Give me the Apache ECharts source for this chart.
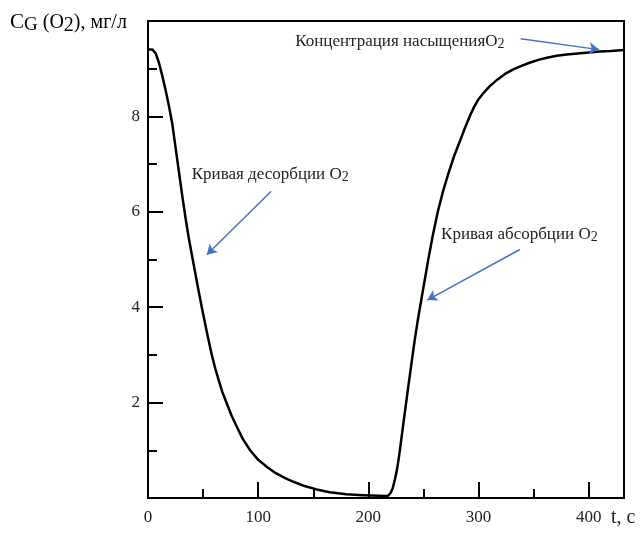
<!DOCTYPE html>
<html>
<head>
<meta charset="utf-8">
<script src="https://cdn.jsdelivr.net/npm/echarts@6/dist/echarts.min.js"></script>
<style>html,body{margin:0;padding:0;background:#fff;}#c{width:640px;height:533px;}</style>
</head>
<body>
<div id="c"></div>
<script>
// Desorption curve (t, s ; C, mg/l)
var desorbT = [0, 4, 7, 10, 13, 16, 19, 22, 25, 28, 31, 34, 37, 40.6, 44.6, 48.8, 53.2, 57.9, 61, 64, 67.5, 71.5, 76, 80.5, 86, 92.7, 100, 108, 116, 124, 132, 142, 153, 165, 180, 195, 210];
var desorbV = [9.4, 9.4, 9.32, 9.12, 8.85, 8.55, 8.22, 7.85, 7.35, 6.85, 6.35, 5.88, 5.45, 5.0, 4.5, 4.0, 3.5, 3.0, 2.72, 2.48, 2.22, 1.98, 1.72, 1.5, 1.24, 1.0, 0.8, 0.65, 0.52, 0.42, 0.34, 0.25, 0.18, 0.12, 0.08, 0.06, 0.045];
// Absorption curve
var absorbT = [216, 218, 220, 222, 224, 226, 228, 230, 232, 234, 236, 239, 242, 245, 248, 251, 254, 258, 263, 268, 273, 278, 283.6, 288, 292.7, 296, 300, 304.8, 310, 317, 324, 332, 340, 347, 355, 362, 371, 380, 390, 400, 410, 420, 432];
var absorbV = [0.04, 0.05, 0.1, 0.2, 0.38, 0.6, 0.9, 1.25, 1.6, 1.95, 2.3, 2.8, 3.3, 3.75, 4.15, 4.55, 4.95, 5.45, 6.0, 6.45, 6.83, 7.18, 7.51, 7.78, 8.04, 8.2, 8.36, 8.5, 8.63, 8.77, 8.89, 8.99, 9.07, 9.13, 9.19, 9.23, 9.27, 9.3, 9.32, 9.34, 9.36, 9.37, 9.39];
// Axis ticks
var xMajorTicks = [0, 100, 200, 300, 400];
var xMinorTicks = [50, 150, 250, 350];
var yMajorTicks = [0, 2, 4, 6, 8, 10];
var yMinorTicks = [1, 3, 5, 7, 9];
var yLabels = [2, 4, 6, 8];
// Annotations (data coordinates)
var annoTexts = [
  {pre: 'Кривая десорбции O', at: [39.7, 6.78]},
  {pre: 'Кривая абсорбции O', at: [266, 5.52]},
  {pre: 'Концентрация насыщенияO', at: [133.6, 9.58]}
];
var arrows = [
  [[111.8, 6.43], [53.4, 5.10]],
  [[337.5, 5.21], [253.4, 4.15]],
  [[338.2, 9.63], [409.4, 9.40]]
];

var curve = [];
for (var i = 0; i < desorbT.length; i++) curve.push([desorbT[i], desorbV[i]]);
for (var j = 0; j < absorbT.length; j++) curve.push([absorbT[j], absorbV[j]]);

var FONT = '"Liberation Serif", "Times New Roman", serif';
var TXT = '#222';
var chart = echarts.init(document.getElementById('c'), null, {renderer: 'canvas'});

var subRich = {
  n: {fontFamily: FONT, fontSize: 17, color: TXT},
  s: {fontFamily: FONT, fontSize: 14, color: TXT, padding: [6, 0, 0, 0]}
};

var option = {
  animation: false,
  backgroundColor: '#fff',
  grid: {left: 148, right: 16, top: 21, bottom: 35, show: true, borderColor: '#000', borderWidth: 2, containLabel: false},
  xAxis: [{
    type: 'value', min: 0, max: 432,
    axisLine: {show: true, lineStyle: {color: '#000', width: 2}},
    axisTick: {show: true, inside: true, length: 16, lineStyle: {color: '#000', width: 2}, customValues: xMajorTicks},
    axisLabel: {show: true, margin: 11, fontFamily: FONT, fontSize: 17, color: TXT, customValues: xMajorTicks},
    splitLine: {show: false}
  }, {
    type: 'value', min: 0, max: 432, position: 'bottom',
    axisLine: {show: false},
    axisTick: {show: true, inside: true, length: 9, lineStyle: {color: '#000', width: 2}, customValues: xMinorTicks},
    axisLabel: {show: false},
    splitLine: {show: false}
  }],
  yAxis: [{
    type: 'value', min: 0, max: 10,
    axisLine: {show: true, lineStyle: {color: '#000', width: 2}},
    axisTick: {show: true, inside: true, length: 15, lineStyle: {color: '#000', width: 2}, customValues: yMajorTicks},
    axisLabel: {show: true, margin: 8, fontFamily: FONT, fontSize: 17, color: TXT, customValues: yLabels},
    splitLine: {show: false}
  }, {
    type: 'value', min: 0, max: 10, position: 'left',
    axisLine: {show: false},
    axisTick: {show: true, inside: true, length: 9, lineStyle: {color: '#000', width: 2}, customValues: yMinorTicks},
    axisLabel: {show: false},
    splitLine: {show: false}
  }],
  graphic: [{
    type: 'text', left: 10, top: 12,
    style: {
      text: '{c|C}{g|G}{n| (O}{s|2}{n|), мг/л}',
      rich: {
        c: {fontFamily: FONT, fontSize: 21, color: TXT},
        g: {fontFamily: FONT, fontSize: 19, color: TXT, padding: [6, 0, 0, 0]},
        n: {fontFamily: FONT, fontSize: 20, color: TXT},
        s: {fontFamily: FONT, fontSize: 20, color: TXT, padding: [6, 0, 0, 0]}
      }
    }
  }, {
    type: 'text', left: 611, top: 508,
    style: {text: 't, c', fontFamily: FONT, fontSize: 20, fill: TXT}
  }],
  series: [{
    type: 'line',
    data: curve,
    showSymbol: false,
    smooth: false,
    lineStyle: {color: '#000', width: 2.5, join: 'round'},
    z: 3,
    markLine: {
      silent: true,
      symbol: ['none', 'arrow'],
      symbolSize: [9, 10],
      label: {show: false},
      lineStyle: {color: '#4472C4', width: 1.5, type: 'solid'},
      data: arrows.map(function (a) { return [{coord: a[0]}, {coord: a[1]}]; })
    },
    markPoint: {
      silent: true,
      symbol: 'circle',
      symbolSize: 0,
      data: annoTexts.map(function (t) {
        return {
          coord: t.at,
          label: {
            show: true, position: 'right', distance: 0,
            formatter: '{n|' + t.pre + '}{s|2}',
            rich: subRich
          }
        };
      })
    }
  }]
};
chart.setOption(option);
</script>
</body>
</html>
